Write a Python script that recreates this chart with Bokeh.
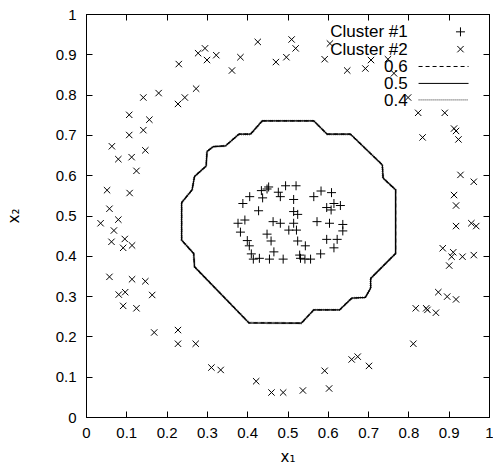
from bokeh.plotting import figure
from bokeh.models import Range1d, LinearAxis, FixedTicker
from bokeh.embed import file_html
from bokeh.resources import INLINE
from bokeh.core.properties import value

# ---------------- data ----------------
c1_x = [0.448, 0.434, 0.494, 0.520, 0.476, 0.481, 0.437, 0.405, 0.388, 0.514,
        0.564, 0.582, 0.608, 0.614, 0.596, 0.607, 0.630, 0.427, 0.514, 0.524,
        0.393, 0.376, 0.463, 0.481, 0.514, 0.572, 0.603, 0.636, 0.636, 0.502,
        0.521, 0.382, 0.448, 0.458, 0.399, 0.404, 0.524, 0.543, 0.596, 0.622,
        0.614, 0.465, 0.409, 0.414, 0.429, 0.454, 0.488, 0.529, 0.531, 0.542,
        0.556, 0.581, 0.452]
c1_y = [0.567, 0.563, 0.575, 0.575, 0.559, 0.548, 0.545, 0.548, 0.531, 0.541,
        0.548, 0.562, 0.558, 0.531, 0.521, 0.515, 0.526, 0.513, 0.511, 0.504,
        0.490, 0.482, 0.486, 0.482, 0.482, 0.486, 0.482, 0.479, 0.463, 0.465,
        0.465, 0.460, 0.455, 0.438, 0.439, 0.426, 0.438, 0.426, 0.442, 0.442,
        0.421, 0.411, 0.406, 0.393, 0.395, 0.393, 0.393, 0.403, 0.395, 0.393,
        0.393, 0.406, 0.572]

c2_x = [0.425, 0.229, 0.277, 0.294, 0.299, 0.322, 0.361, 0.382, 0.470, 0.227,
        0.244, 0.272, 0.179, 0.141, 0.106, 0.156, 0.106, 0.141, 0.063, 0.079,
        0.112, 0.146, 0.124, 0.051, 0.107, 0.057, 0.035, 0.079, 0.068, 0.062,
        0.095, 0.091, 0.113, 0.057, 0.113, 0.146, 0.080, 0.096, 0.163, 0.091,
        0.124, 0.168, 0.227, 0.227, 0.271, 0.310, 0.333, 0.421, 0.459, 0.488,
        0.537, 0.602, 0.591, 0.658, 0.673, 0.701, 0.811, 0.817, 0.843, 0.846,
        0.867, 0.873, 0.895, 0.917, 0.884, 0.910, 0.906, 0.933, 0.961, 0.900,
        0.917, 0.955, 0.967, 0.509, 0.519, 0.496, 0.604, 0.591, 0.647, 0.692,
        0.706, 0.748, 0.763, 0.798, 0.823, 0.889, 0.834, 0.912, 0.917, 0.923,
        0.928, 0.961, 0.912, 0.917]
c2_y = [0.932, 0.877, 0.904, 0.916, 0.887, 0.899, 0.861, 0.894, 0.882, 0.778,
        0.794, 0.816, 0.805, 0.794, 0.751, 0.739, 0.701, 0.713, 0.673, 0.641,
        0.646, 0.663, 0.612, 0.564, 0.557, 0.518, 0.482, 0.491, 0.464, 0.436,
        0.443, 0.421, 0.427, 0.349, 0.343, 0.338, 0.305, 0.311, 0.304, 0.277,
        0.271, 0.211, 0.217, 0.183, 0.183, 0.124, 0.118, 0.090, 0.062, 0.062,
        0.067, 0.072, 0.116, 0.144, 0.151, 0.128, 0.183, 0.271, 0.271, 0.267,
        0.260, 0.311, 0.300, 0.293, 0.420, 0.410, 0.399, 0.399, 0.403, 0.377,
        0.475, 0.482, 0.475, 0.938, 0.916, 0.894, 0.928, 0.889, 0.861, 0.866,
        0.887, 0.889, 0.854, 0.794, 0.756, 0.756, 0.695, 0.717, 0.711, 0.690,
        0.602, 0.585, 0.552, 0.526]

# decision boundary contour (levels 0.6 / 0.5 / 0.4 nearly coincide)
contour_x = [0.436, 0.564, 0.597, 0.655, 0.734, 0.736, 0.767, 0.767, 0.705, 0.705,
             0.692, 0.658, 0.628, 0.564, 0.533, 0.403, 0.268, 0.266, 0.236, 0.236,
             0.262, 0.268, 0.297, 0.299, 0.314, 0.345, 0.378, 0.407, 0.436]
contour_y = [0.736, 0.736, 0.703, 0.703, 0.627, 0.594, 0.565, 0.407, 0.345, 0.321,
             0.298, 0.296, 0.267, 0.267, 0.234, 0.235, 0.374, 0.407, 0.440, 0.533,
             0.565, 0.598, 0.624, 0.660, 0.672, 0.674, 0.703, 0.703, 0.736]

ticks = [0, 0.1, 0.2, 0.3, 0.4, 0.5, 0.6, 0.7, 0.8, 0.9, 1]
tick_labels = ["0", "0.1", "0.2", "0.3", "0.4", "0.5", "0.6", "0.7", "0.8", "0.9", "1"]
legend_labels = ["Cluster #1", "Cluster #2", "0.6", "0.5", "0.4"]

# ---------------- figure ----------------
FONT = "Liberation Sans"
p = figure(frame_width=403, frame_height=403, output_backend="svg", toolbar_location=None,
           x_range=Range1d(0, 1), y_range=Range1d(0, 1),
           min_border_left=86, min_border_right=4, min_border_top=14, min_border_bottom=50)
p.grid.visible = False
p.outline_line_color = "black"
p.outline_line_width = 1
p.background_fill_color = "white"
p.border_fill_color = "white"

overrides = {t: l for t, l in zip(ticks, tick_labels)}
for ax in (p.xaxis[0], p.yaxis[0]):
    ax.ticker = FixedTicker(ticks=ticks)
    ax.major_label_overrides = overrides
    ax.major_tick_in = 6
    ax.major_tick_out = 0
    ax.minor_tick_in = 0
    ax.minor_tick_out = 0
    ax.major_label_text_font = FONT
    ax.major_label_text_font_size = "15px"
    ax.major_label_text_color = "black"
    ax.axis_line_color = "black"
    ax.major_tick_line_color = "black"
    ax.major_label_standoff = 10
    ax.axis_label_text_font = "DejaVu Sans"
    ax.axis_label_text_font_size = "15px"
    ax.axis_label_text_font_style = "normal"
    ax.axis_label_text_color = "black"
p.xaxis[0].axis_label = "x\u2081"
p.yaxis[0].axis_label = "x\u2082"
p.xaxis[0].axis_label_standoff = 7
p.yaxis[0].axis_label_standoff = 30

for side in ("above", "right"):
    ax = LinearAxis(ticker=FixedTicker(ticks=ticks), major_tick_in=6, major_tick_out=0,
                    minor_tick_in=0, minor_tick_out=0, major_label_text_color=None,
                    major_label_text_font_size="8px",
                    major_label_standoff=0, axis_line_color="black",
                    major_tick_line_color="black")
    p.add_layout(ax, side)

# points
p.scatter(c1_x, c1_y, marker="cross", size=9, line_color="black", line_width=1)
p.scatter(c2_x, c2_y, marker="x", size=9, line_color="black", line_width=1)

# contours
p.line(contour_x, contour_y, line_color="#8a8a8a", line_width=2.4, line_dash="1 1")
p.line(contour_x, contour_y, line_color="black", line_width=1.2)
p.line(contour_x, contour_y, line_color="black", line_width=1.2, line_dash="4 3")

# legend (gnuplot style: text right-aligned, sample to the right)
leg_text_x = 0.797
leg_rows = [0.957, 0.914, 0.871, 0.829, 0.788]
leg_s0, leg_s1, leg_mid = 0.824, 0.948, 0.928
p.text(x=[leg_text_x] * 5, y=leg_rows, text=legend_labels, text_align="right",
       text_baseline="middle", text_font=value(FONT), text_font_size="17px",
       text_color="black")
p.scatter([leg_mid], [leg_rows[0]], marker="cross", size=9, line_color="black")
p.scatter([leg_mid], [leg_rows[1]], marker="x", size=9, line_color="black")
p.line([leg_s0, leg_s1], [leg_rows[2]] * 2, line_color="black", line_width=1, line_dash="4 3")
p.line([leg_s0, leg_s1], [leg_rows[3]] * 2, line_color="black", line_width=1)
p.line([leg_s0, leg_s1], [leg_rows[4]] * 2, line_color="#555555", line_width=1.2, line_dash="1 1")

open("out.html", "w").write(file_html(p, INLINE))
